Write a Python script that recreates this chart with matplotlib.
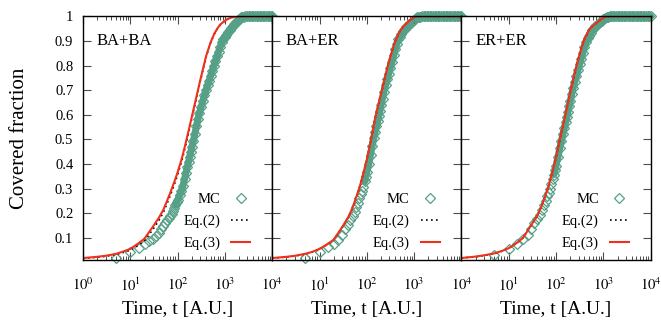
import numpy as np
import matplotlib
matplotlib.use('Agg')
import matplotlib.pyplot as plt
from matplotlib.ticker import LogLocator, NullFormatter, FixedLocator

plt.rcParams['font.family'] = ['Liberation Serif', 'DejaVu Serif']
plt.rcParams['mathtext.fontset'] = 'stix'

panels = ['BA+BA', 'BA+ER', 'ER+ER']

# time grid of the two analytic curves
t_eq = [1, 2, 3, 5, 7, 10, 15, 20, 30, 40, 50, 60, 70, 85, 100, 125, 150, 175,
        200, 250, 300, 350, 400, 500, 600, 700, 800, 1000, 1200, 1500, 2000,
        3000, 5000, 10000]

eq3_baba = [.018, .023, .027, .035, .044, .055, .078, .097, .145, .181, .214, .251,
            .283, .327, .366, .428, .489, .544, .592, .673, .739, .792, .838, .895,
            .930, .952, .967, .982, .991, .997, 1, 1, 1, 1]
eq2_baba = [.017, .021, .025, .032, .040, .050, .071, .089, .134, .170, .203, .240,
            .272, .316, .356, .418, .480, .536, .585, .667, .734, .788, .835, .893,
            .929, .951, .966, .981, .991, .997, 1, 1, 1, 1]

eq3_baer = [.018, .023, .027, .035, .043, .055, .075, .093, .143, .182, .222, .266,
            .304, .364, .418, .507, .586, .641, .685, .765, .823, .865, .900, .940,
            .960, .973, .983, .997, 1, 1, 1, 1, 1, 1]
eq2_baer = [.017, .022, .026, .034, .042, .054, .074, .092, .142, .181, .221, .265,
            .303, .363, .417, .506, .585, .640, .684, .764, .822, .864, .899, .940,
            .960, .973, .983, .997, 1, 1, 1, 1, 1, 1]

eq3_erer = [.018, .024, .029, .037, .046, .058, .080, .100, .152, .189, .231, .273,
            .311, .371, .427, .514, .580, .639, .692, .773, .831, .876, .908, .946,
            .961, .971, .980, .995, .999, 1, 1, 1, 1, 1]
eq2_erer = [.018, .023, .028, .036, .045, .057, .079, .099, .151, .188, .230, .272,
            .310, .370, .426, .513, .579, .638, .691, .772, .830, .875, .907, .945,
            .961, .971, .980, .995, .999, 1, 1, 1, 1, 1]

# Monte Carlo sampling times
t_mc = [5, 10, 15, 20, 25, 30, 35, 40, 45, 50, 55, 60, 65, 70, 75, 80, 85, 90, 95,
        100, 110, 120, 130, 140, 150, 160, 170, 180, 190, 200, 215, 230, 250, 270,
        290, 315, 340, 370, 400, 430, 465, 500, 540, 585, 630, 680, 735, 795, 860,
        930, 1000, 1080, 1170, 1260, 1360, 1470, 1590, 1720, 1850, 2000, 2160, 2330,
        2520, 2720, 2940, 3170, 3430, 3700, 4000, 4320, 4660, 5040, 5440, 5870, 6340,
        6850, 7400, 7990, 8630, 9320, 10000]

mc_baba = [.020, .042, .058, .073, .086, .094, .106, .120, .135, .148, .160, .171,
           .181, .190, .198, .210, .222, .233, .244, .254, .273, .290, .312, .338,
           .363, .387, .408, .429, .449, .468, .493, .520, .553, .583, .608, .632,
           .654, .679, .701, .719, .739, .758, .778, .798, .817, .837, .856, .876,
           .896, .908, .917, .926, .936, .944, .953, .960, .967, .975, .982, .989,
           .996, .998, .999, 1, 1, 1, 1, 1, 1, 1, 1, 1, 1, 1, 1, 1, 1, 1, 1, 1, 1]

mc_baer = [.019, .042, .062, .076, .090, .110, .134, .154, .172, .188, .204, .225,
           .243, .260, .277, .291, .308, .329, .348, .366, .400, .438, .474, .505,
           .530, .553, .575, .596, .617, .638, .666, .694, .720, .744, .766, .791,
           .814, .841, .866, .888, .906, .916, .927, .939, .950, .956, .962, .968,
           .974, .980, .986, .992, .996, .998, .999, 1, 1, 1, 1, 1, 1, 1, 1, 1, 1,
           1, 1, 1, 1, 1, 1, 1, 1, 1, 1, 1, 1, 1, 1, 1, 1]

mc_erer = [.030, .056, .075, .094, .112, .137, .159, .177, .194, .213, .233, .251,
           .268, .283, .297, .317, .338, .357, .376, .393, .429, .463, .494, .521,
           .546, .569, .591, .613, .635, .655, .684, .709, .734, .758, .780, .805,
           .828, .852, .875, .896, .910, .922, .933, .946, .954, .959, .965, .971,
           .977, .982, .988, .994, .997, .999, 1, 1, 1, 1, 1, 1, 1, 1, 1, 1, 1, 1,
           1, 1, 1, 1, 1, 1, 1, 1, 1, 1, 1, 1, 1, 1, 1]

mc_all = [mc_baba, mc_baer, mc_erer]
eq2_all = [eq2_baba, eq2_baer, eq2_erer]
eq3_all = [eq3_baba, eq3_baer, eq3_erer]

green = '#55a086'
red = '#f0301a'

fig = plt.figure(figsize=(6.61, 3.26), dpi=100)
W, H = 661.0, 326.0
left0, pw = 83.0, 189.2
top, bot = 16.3, 260.0

# where the MC points get so dense they merge into a band
k = t_mc.index(90)

for i in range(3):
    ax = fig.add_axes([(left0 + i * pw) / W, 1 - bot / H, pw / W, (bot - top) / H])
    ax.plot(t_mc[k:], mc_all[i][k:], color=green, lw=5.0, solid_capstyle='round',
            solid_joinstyle='round', clip_on=False, zorder=1)
    ax.plot(t_mc, mc_all[i], linestyle='none', marker='D', markersize=4.6,
            markerfacecolor='none', markeredgecolor=green, markeredgewidth=0.9,
            clip_on=False, label='MC', zorder=2)
    ax.plot(t_eq, eq2_all[i], color='black', linestyle=(0, (1, 2)), lw=1.2,
            label='Eq.(2)', zorder=3)
    ax.plot(t_eq, eq3_all[i], color=red, lw=1.5, label='Eq.(3)', zorder=4)

    ax.set_xscale('log')
    ax.set_xlim(1, 1e4)
    ax.set_ylim(0.01, 1.0)
    for s in ax.spines.values():
        s.set_linewidth(1.0)
        s.set_zorder(5)

    ax.xaxis.set_major_locator(FixedLocator([1, 10, 100, 1000, 10000]))
    if i == 0:
        ax.set_xticklabels([r'$10^{0}$', r'$10^{1}$', r'$10^{2}$', r'$10^{3}$', r'$10^{4}$'])
    else:
        ax.set_xticklabels(['', r'$10^{1}$', r'$10^{2}$', r'$10^{3}$', r'$10^{4}$'])
    ax.xaxis.set_minor_locator(LogLocator(base=10, subs=np.arange(2, 10), numticks=20))
    ax.xaxis.set_minor_formatter(NullFormatter())

    ax.set_yticks([0.1, 0.2, 0.3, 0.4, 0.5, 0.6, 0.7, 0.8, 0.9, 1.0])
    if i == 0:
        ax.set_yticklabels(['0.1', '0.2', '0.3', '0.4', '0.5', '0.6', '0.7', '0.8', '0.9', '1'])
        ax.set_ylabel('Covered fraction', fontsize=15, labelpad=19)
    else:
        ax.set_yticklabels([])

    ax.tick_params(axis='both', which='both', direction='in', top=True, right=True,
                   labelsize=10.5)
    ax.tick_params(axis='both', which='major', length=6, width=0.8, color='0.3')
    ax.tick_params(axis='x', which='minor', length=3, width=0.7, color='0.3')
    ax.tick_params(axis='x', which='major', pad=12)
    ax.tick_params(axis='y', which='major', pad=7)

    ax.set_xlabel('Time, t [A.U.]', fontsize=14, labelpad=5)
    ax.text(0.073, 0.9, panels[i], transform=ax.transAxes,
            fontsize=12, va='center', ha='left')

    leg = ax.legend(loc='lower right', bbox_to_anchor=(0.885, 0.04), frameon=False,
                    markerfirst=False, fontsize=10.5, handlelength=1.3,
                    handletextpad=0.75, labelspacing=0.6, borderpad=0,
                    borderaxespad=0, numpoints=1)

fig.savefig('out.png', dpi=100)
